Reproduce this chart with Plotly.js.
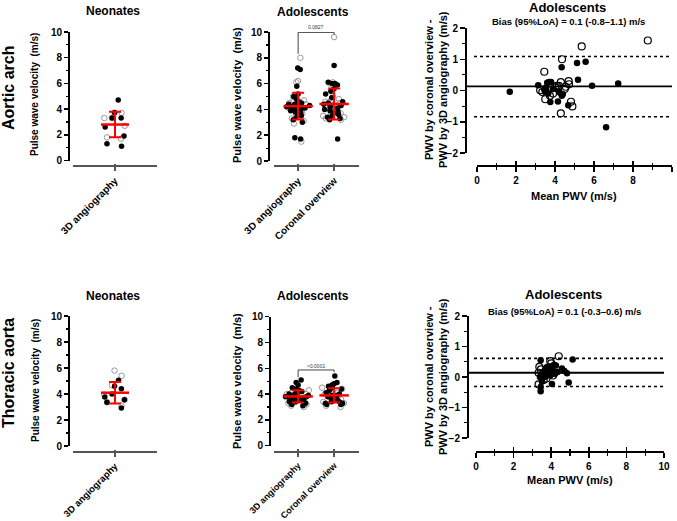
<!DOCTYPE html>
<html>
<head>
<meta charset="utf-8">
<script src="https://cdn.plot.ly/plotly-3.0.1.min.js"></script>
<style>html,body{margin:0;padding:0;background:#fff;}#chart{width:677px;height:521px;}</style>
</head>
<body>
<div id="chart"></div>
<script>
// ---------- DATA ----------
const categories = ['3D angiography', 'Coronal overview'];

// Aortic arch – neonates (3D angiography)
const aaNeoFilled = [4.7, 3.73, 3.3, 3.3, 2.6, 1.9, 1.1, 1.3];
const aaNeoOpen = [3.7, 3.7, 3.3, 3.3, 2.7, 1.8, 1.7];
const aaNeoMean = [2.8];
const aaNeoSD = [1.0];

// Aortic arch – adolescents
const aaAdo3DFilled = [7.2, 7.1, 5.8, 5.2, 5.0, 4.8, 4.6, 4.5, 4.5, 4.4, 4.4, 4.3, 4.3, 4.2, 4.2, 4.1, 4.0, 4.0, 3.9, 3.8, 3.7, 3.6, 3.5, 3.4, 3.2, 3.0, 1.8, 1.7];
const aaAdo3DOpen = [8.0, 6.2, 6.1, 5.0, 4.8, 4.7, 4.6, 4.5, 4.4, 4.3, 4.2, 4.1, 4.0, 3.9, 3.8, 3.7, 3.5, 3.3, 3.1, 2.9, 1.5];
const aaAdoCorFilled = [7.4, 6.1, 6.0, 6.0, 5.9, 5.6, 5.4, 5.2, 4.9, 4.6, 4.5, 4.4, 4.3, 4.2, 4.1, 4.0, 3.9, 3.8, 3.7, 3.6, 3.5, 3.4, 3.3, 3.2, 1.7];
const aaAdoCorOpen = [9.6, 6.1, 6.0, 5.0, 4.8, 4.7, 4.6, 4.5, 4.4, 4.3, 4.2, 4.0, 3.9, 3.8, 3.7, 3.6, 3.5, 3.4, 3.3, 3.2];
const aaAdoMean = [4.25, 4.42];
const aaAdoSD = [1.04, 1.2];
const aaP = '0.0827';

// Aortic arch – Bland-Altman (adolescents)
const aaBAFilledX = [1.68, 3.14, 3.45, 3.5, 3.55, 3.6, 3.7, 3.8, 3.65, 3.76, 4.15, 4.2, 4.3, 4.35, 4.4, 4.34, 4.68, 5.13, 5.57, 5.18, 5.9, 7.24, 6.62, 3.55, 3.9];
const aaBAFilledY = [-0.04, 0.17, 0.02, -0.05, 0.0, 0.25, 0.27, 0.27, -0.1, -0.37, -0.35, -0.05, -0.1, -0.17, -0.12, 0.74, -0.47, 0.88, 0.92, 0.34, 0.15, 0.22, -1.18, 0.1, 0.05];
const aaBAOpenX = [3.45, 4.36, 5.37, 8.76, 4.3, 4.89, 4.82, 3.5, 4.3, 4.7, 4.72, 3.74, 3.9, 3.24, 4.0, 4.1, 4.5, 3.35, 4.2, 4.55];
const aaBAOpenY = [0.6, 1.0, 1.41, 1.6, -0.73, -0.51, -0.36, -0.28, 0.27, 0.3, 0.2, -0.17, -0.1, 0.01, 0.1, 0.15, 0.05, -0.05, 0.15, 0.12];
const aaBias = 0.13;
const aaLoA = [-0.84, 1.09];
const aaBiasText = 'Bias (95%LoA) = 0.1 (-0.8\u20131.1) m/s';

// Thoracic aorta – neonates
const taNeoFilled = [5.05, 4.6, 4.4, 4.0, 3.77, 3.56, 3.36, 2.92];
const taNeoOpen = [5.8, 5.4, 4.67, 3.95, 3.56, 3.36, 3.1];
const taNeoMean = [4.1];
const taNeoSD = [0.83];

// Thoracic aorta – adolescents
const taAdo3DFilled = [5.1, 4.9, 4.7, 4.5, 4.4, 4.3, 4.2, 4.1, 4.0, 4.0, 3.9, 3.9, 3.8, 3.8, 3.7, 3.7, 3.6, 3.6, 3.5, 3.5, 3.4, 3.4, 3.3, 3.2, 3.1, 3.8, 3.9];
const taAdo3DOpen = [4.3, 4.1, 4.0, 3.9, 3.8, 3.7, 3.6, 3.5, 3.4, 3.3, 3.2, 3.1, 3.0, 3.7, 3.9, 4.0];
const taAdoCorFilled = [5.4, 4.9, 4.8, 4.7, 4.6, 4.5, 4.3, 4.1, 4.0, 3.9, 3.8, 3.7, 3.6, 3.5, 3.4, 3.3, 3.3, 3.2, 3.2, 3.4, 4.4, 3.9];
const taAdoCorOpen = [4.5, 4.4, 4.2, 4.0, 3.9, 3.8, 3.7, 3.6, 3.5, 3.4, 3.3, 3.1, 3.0, 4.1];
const taAdoMean = [3.82, 3.9];
const taAdoSD = [0.47, 0.55];
const taP = '<0.0001';

// Thoracic aorta – Bland-Altman (adolescents)
const taBAFilledX = [3.44, 5.14, 3.44, 3.44, 4.04, 4.93, 4.57, 4.7, 4.84, 4.34, 3.4, 3.45, 3.5, 3.6, 3.7, 3.75, 3.8, 3.85, 3.9, 3.95, 4.0, 4.05, 4.1, 4.15, 4.2, 3.65, 3.55, 4.25, 3.5];
const taBAFilledY = [0.55, 0.57, -0.33, -0.47, -0.23, -0.18, 0.28, 0.2, 0.12, 0.16, 0.0, 0.05, -0.05, 0.1, 0.2, 0.3, 0.1, 0.25, 0.35, 0.05, 0.15, 0.3, 0.2, 0.4, 0.1, 0.0, 0.15, 0.38, -0.15];
const taBAOpenX = [4.4, 3.37, 3.33, 3.33, 3.95, 3.6, 3.7, 3.8, 3.9, 4.0, 3.45, 4.1, 3.75];
const taBAOpenY = [0.68, 0.33, 0.14, -0.24, 0.52, -0.1, 0.05, 0.3, 0.2, 0.45, 0.25, 0.05, -0.05];
const taBias = 0.14;
const taLoA = [-0.31, 0.61];
const taBiasText = 'Bias (95%LoA) = 0.1 (-0.3\u20130.6) m/s';

// ---------- HELPERS ----------
const W = 677, H = 521;
const px = v => v / W;
const py = v => 1 - v / H;
const FONT = 'Arial, "Liberation Sans", sans-serif';
const RED = '#ff0000';

function strip(xa, ya, cat, vals, open, width, jitter) {
  return {
    type: 'box', x: vals.map(() => cat), y: vals, xaxis: xa, yaxis: ya,
    boxpoints: 'all', jitter: jitter, pointpos: 0, width: width,
    fillcolor: 'rgba(0,0,0,0)', line: {width: 0, color: 'rgba(0,0,0,0)'},
    marker: open ? {symbol: 'circle-open', color: '#9a9a9a', size: 5.5, line: {width: 1, color: '#9a9a9a'}}
                 : {symbol: 'circle', color: '#000', size: 5.5},
    hoverinfo: 'y', showlegend: false
  };
}
function meanSD(xa, ya, cats, means, sds, size) {
  return {
    type: 'scatter', mode: 'markers', x: cats, y: means, xaxis: xa, yaxis: ya,
    error_y: {type: 'data', array: sds, visible: true, color: RED, thickness: 2, width: 6},
    marker: {symbol: 'line-ew', size: size, color: RED, line: {color: RED, width: 2.5}},
    showlegend: false, cliponaxis: false
  };
}
function ba(xa, ya, fx, fy, ox, oy) {
  return [
    {type: 'scatter', mode: 'markers', x: fx, y: fy, xaxis: xa, yaxis: ya,
     marker: {symbol: 'circle', color: '#000', size: 6.5}, showlegend: false, cliponaxis: false},
    {type: 'scatter', mode: 'markers', x: ox, y: oy, xaxis: xa, yaxis: ya,
     marker: {symbol: 'circle-open', color: '#000', size: 7, line: {width: 1.2, color: '#000'}}, showlegend: false, cliponaxis: false}
  ];
}
// empty helper traces that carry the overlay (inside-tick) axes
function carrier(xa, ya, xs) {
  return {type: 'scatter', mode: 'markers', x: xs, y: xs.map(() => null), xaxis: xa, yaxis: ya,
    showlegend: false, hoverinfo: 'skip'};
}

const traces = [
  strip('x', 'y', categories[0], aaNeoOpen, true, 0.4, 0.75),
  strip('x', 'y', categories[0], aaNeoFilled, false, 0.4, 0.75),
  meanSD('x', 'y', [categories[0]], aaNeoMean, aaNeoSD, 20),

  strip('x2', 'y2', categories[0], aaAdo3DOpen, true, 0.8, 0.9),
  strip('x2', 'y2', categories[0], aaAdo3DFilled, false, 0.8, 0.9),
  strip('x2', 'y2', categories[1], aaAdoCorOpen, true, 0.8, 0.9),
  strip('x2', 'y2', categories[1], aaAdoCorFilled, false, 0.8, 0.9),
  meanSD('x2', 'y2', categories, aaAdoMean, aaAdoSD, 21),

  ...ba('x3', 'y3', aaBAFilledX, aaBAFilledY, aaBAOpenX, aaBAOpenY),

  strip('x4', 'y4', categories[0], taNeoOpen, true, 0.4, 0.75),
  strip('x4', 'y4', categories[0], taNeoFilled, false, 0.4, 0.75),
  meanSD('x4', 'y4', [categories[0]], taNeoMean, taNeoSD, 20),

  strip('x5', 'y5', categories[0], taAdo3DOpen, true, 0.8, 0.9),
  strip('x5', 'y5', categories[0], taAdo3DFilled, false, 0.8, 0.9),
  strip('x5', 'y5', categories[1], taAdoCorOpen, true, 0.8, 0.9),
  strip('x5', 'y5', categories[1], taAdoCorFilled, false, 0.8, 0.9),
  meanSD('x5', 'y5', categories, taAdoMean, taAdoSD, 21),

  ...ba('x6', 'y6', taBAFilledX, taBAFilledY, taBAOpenX, taBAOpenY),

  carrier('x7', 'y', [categories[0]]),
  carrier('x8', 'y2', categories),
  carrier('x9', 'y3', [0]),
  carrier('x10', 'y4', [categories[0]]),
  carrier('x11', 'y5', categories),
  carrier('x12', 'y6', [0])
];

// ---------- AXES ----------
const tickFont = {family: FONT, size: 10, color: '#000', weight: 'bold'};
function dotY(yBottom, yTop, xPos) {
  return {range: [0, 10], dtick: 2, tick0: 0, ticks: 'outside', ticklen: 4, tickwidth: 1.5, tickcolor: '#000',
    showline: true, linewidth: 1.5, linecolor: '#000', showgrid: false, zeroline: false, tickfont: tickFont,
    minor: {dtick: 1, ticklen: 2, tickwidth: 1.2, ticks: 'outside', tickcolor: '#000', showgrid: false},
    anchor: 'free', position: px(xPos), domain: [py(yBottom), py(yTop)], fixedrange: true};
}
function dotX(x0, x1, yPos, range, fs) {
  return {type: 'category', range: range, categoryorder: 'array', categoryarray: categories,
    showline: true, linewidth: 2, linecolor: '#555', ticks: 'outside', ticklen: 4, tickwidth: 1.5, tickcolor: '#555',
    tickangle: -45, tickfont: {family: FONT, size: fs || 10, color: '#000', weight: 'bold'},
    showgrid: false, zeroline: false, anchor: 'free', position: py(yPos), domain: [px(x0), px(x1)], fixedrange: true};
}
function dotXin(base, x0, x1, yPos, range) {
  return {type: 'category', range: range, categoryorder: 'array', categoryarray: categories, overlaying: base,
    showline: false, ticks: 'inside', ticklen: 2.5, tickwidth: 1.5, tickcolor: '#555', showticklabels: false,
    showgrid: false, zeroline: false, anchor: 'free', position: py(yPos), domain: [px(x0), px(x1)], fixedrange: true};
}
function baY(yBottom, yTop, xPos) {
  return {range: [-2, 2], dtick: 1, tick0: 0, ticks: 'outside', ticklen: 5, tickwidth: 1.5, tickcolor: '#000',
    showline: true, linewidth: 1.5, linecolor: '#000', showgrid: false, zeroline: false, tickfont: tickFont,
    minor: {dtick: 0.5, ticklen: 3, tickwidth: 1.2, ticks: 'outside', tickcolor: '#000', showgrid: false},
    anchor: 'free', position: px(xPos), domain: [py(yBottom), py(yTop)], fixedrange: true};
}
function baX(x0, x1, yPos) {
  return {range: [0, 10], dtick: 2, tick0: 0, ticks: 'outside', ticklen: 5, tickwidth: 1.5, tickcolor: '#000',
    showline: true, linewidth: 2, linecolor: '#000', showgrid: false, zeroline: false, tickfont: tickFont,
    minor: {dtick: 1, ticklen: 3, tickwidth: 1.2, ticks: 'outside', tickcolor: '#000', showgrid: false},
    anchor: 'free', position: py(yPos), domain: [px(x0), px(x1)], fixedrange: true};
}
function baXin(base, x0, x1, yPos) {
  return {range: [0, 10], dtick: 2, tick0: 0, overlaying: base, ticks: 'inside', ticklen: 5, tickwidth: 1.5, tickcolor: '#000',
    showline: false, showticklabels: false, showgrid: false, zeroline: false,
    minor: {dtick: 1, ticklen: 3, tickwidth: 1.2, ticks: 'inside', tickcolor: '#000', showgrid: false},
    anchor: 'free', position: py(yPos), domain: [px(x0), px(x1)], fixedrange: true};
}

// ---------- ANNOTATIONS ----------
function txt(x, y, text, size, opts) {
  return Object.assign({xref: 'paper', yref: 'paper', x: px(x), y: py(y), text: text, showarrow: false,
    xanchor: 'center', yanchor: 'middle', font: {family: FONT, size: size, color: '#000', weight: 'bold'}}, opts || {});
}
const annotations = [
  txt(8, 88, 'Aortic arch', 16, {textangle: -90}),
  txt(8, 373, 'Thoracic aorta', 16, {textangle: -90}),
  txt(113, 11, 'Neonates', 12),
  txt(313, 12, 'Adolescents', 12),
  txt(567, 7, 'Adolescents', 13),
  txt(568, 22, aaBiasText, 9.5),
  txt(113, 296, 'Neonates', 12),
  txt(313, 296, 'Adolescents', 12),
  txt(563, 294, 'Adolescents', 13),
  txt(564, 311, taBiasText, 9.5),
  txt(35, 95, 'Pulse wave velocity  (m/s)', 10, {textangle: -90}),
  txt(237, 95, 'Pulse wave velocity  (m/s)', 11, {textangle: -90}),
  txt(35, 381, 'Pulse wave velocity  (m/s)', 10, {textangle: -90}),
  txt(237, 381, 'Pulse wave velocity  (m/s)', 11, {textangle: -90}),
  txt(436, 90, 'PWV by coronal overview -<br>PWV by 3D angiography (m/s)', 11, {textangle: -90}),
  txt(436, 377, 'PWV by coronal overview -<br>PWV by 3D angiography (m/s)', 11, {textangle: -90}),
  txt(574, 196, 'Mean PWV (m/s)', 11),
  txt(570, 480, 'Mean PWV (m/s)', 11),
  txt(316, 27, aaP, 5, {font: {family: FONT, size: 5, color: '#333'}}),
  txt(316, 366, taP, 5, {font: {family: FONT, size: 5, color: '#333'}})
];

// ---------- SHAPES ----------
function hline(yref, xa, xb, yv, dash, w) {
  return {type: 'line', xref: 'paper', yref: yref, x0: px(xa), x1: px(xb), y0: yv, y1: yv,
    line: {color: '#000', width: w, dash: dash}};
}
function bracket(xref, yref, yl, yTop, yr) {
  return {type: 'path', xref: xref, yref: yref,
    path: 'M 0,' + yl + ' L 0,' + yTop + ' L 1,' + yTop + ' L 1,' + yr,
    line: {color: '#444', width: 1}};
}
const shapes = [
  hline('y3', 465, 672, aaBias, 'solid', 1.8),
  hline('y3', 474, 671, aaLoA[0], 'dot', 1.6),
  hline('y3', 474, 671, aaLoA[1], 'dot', 1.6),
  hline('y6', 467, 664, taBias, 'solid', 1.8),
  hline('y6', 474, 664, taLoA[0], 'dot', 1.6),
  hline('y6', 474, 664, taLoA[1], 'dot', 1.6),
  bracket('x2', 'y2', 8.3, 9.97, 9.8),
  bracket('x5', 'y5', 5.3, 5.87, 5.7)
];

const layout = {
  width: W, height: H, margin: {l: 0, r: 0, t: 0, b: 0},
  paper_bgcolor: '#fff', plot_bgcolor: 'rgba(0,0,0,0)', showlegend: false,
  boxmode: 'overlay', font: {family: FONT, color: '#000'},
  xaxis: dotX(73, 157, 166, [-0.5, 0.5]),
  yaxis: dotY(160.5, 32, 68),
  xaxis2: dotX(274, 359, 166, [-0.67, 1.69]),
  yaxis2: dotY(161, 32, 268),
  xaxis3: baX(477, 672, 166),
  yaxis3: baY(153, 28, 465),
  xaxis4: dotX(73, 157, 452, [-0.5, 0.5], 9.5),
  yaxis4: dotY(446, 316, 68),
  xaxis5: dotX(274, 359, 451.7, [-0.67, 1.69], 9),
  yaxis5: dotY(445.7, 316.7, 269),
  xaxis6: baX(476, 664, 452),
  yaxis6: baY(438, 316, 467),
  xaxis7: dotXin('x', 73, 157, 166, [-0.5, 0.5]),
  xaxis8: dotXin('x2', 274, 359, 166, [-0.67, 1.69]),
  xaxis9: baXin('x3', 477, 672, 166),
  xaxis10: dotXin('x4', 73, 157, 452, [-0.5, 0.5]),
  xaxis11: dotXin('x5', 274, 359, 451.7, [-0.67, 1.69]),
  xaxis12: baXin('x6', 476, 664, 452),
  annotations: annotations,
  shapes: shapes
};

Plotly.newPlot('chart', traces, layout, {staticPlot: true, displayModeBar: false});
</script>
</body>
</html>
